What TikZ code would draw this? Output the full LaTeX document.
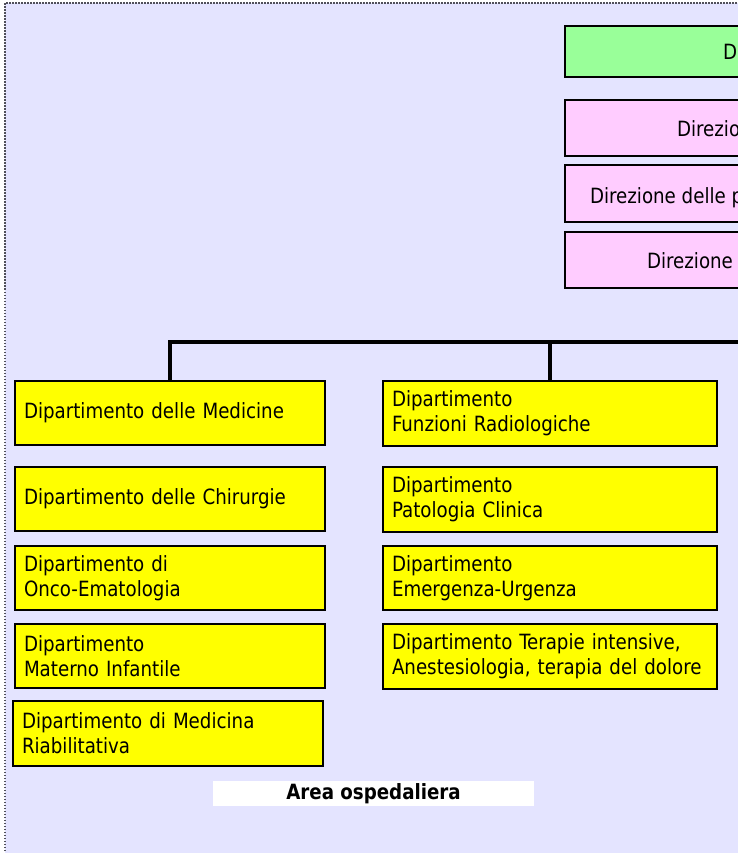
\documentclass[tikz,border=0pt]{standalone}
\usepackage{fontspec}
\setmainfont[FakeStretch=0.965]{DejaVu Sans Condensed}
\begin{document}
\begin{tikzpicture}[x=1pt,y=-1pt,
  every node/.style={inner sep=0pt, outer sep=0pt},
  txt/.style={font=\fontsize{21}{25}\selectfont},
  topbox/.style={draw=black, line width=2.6pt, rectangle, anchor=north west, minimum width=260pt},
  deptbox/.style={draw=black, line width=2.4pt, fill=deptyellow, rectangle, anchor=north west,
     inner xsep=9pt, align=left, font=\fontsize{21}{25}\selectfont},
  conn/.style={draw=black, line width=3.2pt}
]
\definecolor{bglav}{RGB}{228,228,255}
\definecolor{topgreen}{RGB}{153,255,153}
\definecolor{toppink}{RGB}{255,204,255}
\definecolor{deptyellow}{RGB}{255,255,0}
\definecolor{dotgray}{RGB}{80,80,90}
\useasboundingbox (0,0) rectangle (738,853);
% background
\fill[bglav] (5,3) rectangle (745,860);
\draw[dotgray, line width=1.6pt, dash pattern=on 1.5pt off 1.5pt] (5,860) -- (5,3) -- (745,3);
% top boxes
\node[topbox, fill=topgreen, minimum height=51pt] (dg) at (565,26) {};
\node[txt, anchor=base west] (dgt) at (723,60) {D};
\node[topbox, fill=toppink, minimum height=56pt] (p1) at (565,100) {};
\node[txt, anchor=base west] (p1t) at (677,137) {Direzio};
\node[topbox, fill=toppink, minimum height=57pt] (p2) at (565,165) {};
\node[txt, anchor=base west] (p2t) at (590,203) {Direzione delle p};
\node[topbox, fill=toppink, minimum height=56pt] (p3) at (565,232) {};
\node[txt, anchor=base west] (p3t) at (647,268) {Direzione};
% left column
\node[deptbox, minimum height=64pt, text width=292pt] (m1) at (15,381) {Dipartimento delle Medicine};
\node[deptbox, minimum height=64pt, text width=292pt] (m2) at (15,467) {Dipartimento delle Chirurgie};
\node[deptbox, minimum height=64pt, text width=292pt] (m3) at (15,546) {Dipartimento di\\Onco-Ematologia};
\node[deptbox, minimum height=64pt, text width=292pt] (m4) at (15,624) {Dipartimento\\Materno Infantile};
\node[deptbox, minimum height=65pt, text width=292pt] (m5) at (13,701) {Dipartimento di Medicina\\Riabilitativa};
% right column
\node[deptbox, minimum height=65pt, text width=316pt] (f1) at (383,381) {Dipartimento\\Funzioni Radiologiche};
\node[deptbox, minimum height=65pt, text width=316pt] (f2) at (383,467) {Dipartimento\\Patologia Clinica};
\node[deptbox, minimum height=64pt, text width=316pt] (f3) at (383,546) {Dipartimento\\Emergenza-Urgenza};
\node[deptbox, minimum height=65pt, text width=316pt] (f4) at (383,624) {Dipartimento Terapie intensive,\\Anestesiologia, terapia del dolore};
% connectors
\coordinate (bus) at (760,342);
\draw[conn] (m1.north) |- (bus);
\draw[conn] (f1.north) -- (f1.north |- bus);
% label
\node[fill=white, minimum width=321pt, minimum height=25pt, anchor=north west,
      font=\fontsize{21}{25}\selectfont\bfseries] (area) at (213,781) {Area ospedaliera};
\end{tikzpicture}
\end{document}
